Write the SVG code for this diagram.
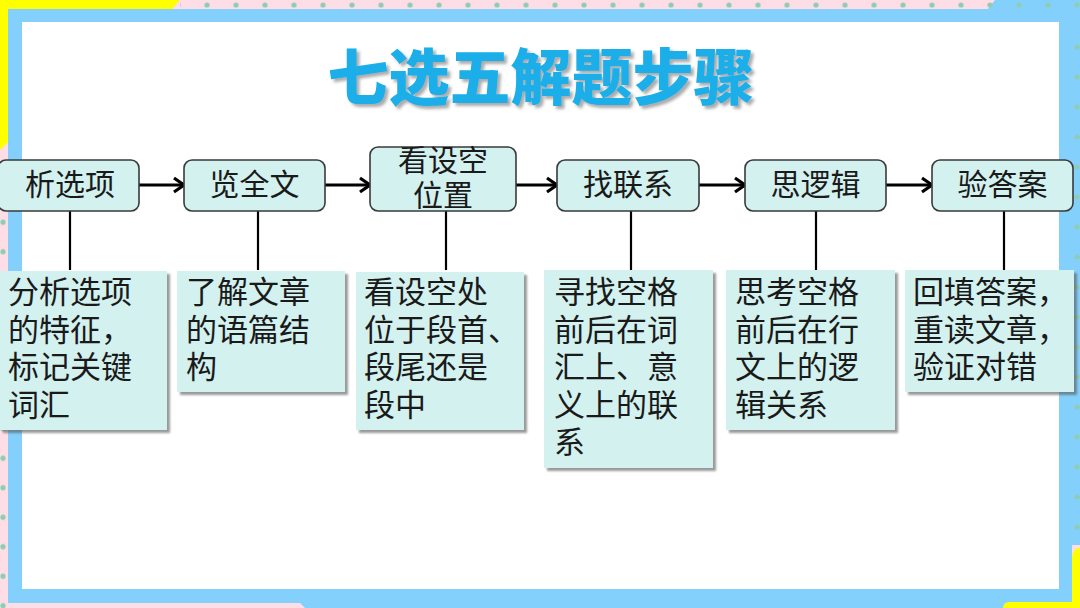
<svg xmlns="http://www.w3.org/2000/svg" width="1080" height="608" viewBox="0 0 1080 608">
<defs>
<style>
.step{fill:#d3f1ef;stroke:#3a3a3a;stroke-width:1.6}
.desc{fill:#d3f1ef;filter:url(#sh)}
.st{font-family:"Liberation Sans","Noto Sans CJK SC",sans-serif;font-size:30px;fill:#1a1a1a;text-anchor:middle}
.dt{font-family:"Liberation Sans","Noto Sans CJK SC",sans-serif;font-size:31px;fill:#1a1a1a}
.arrow{stroke:#000;stroke-width:3;fill:none;marker-end:url(#chev)}
.stem{stroke:#000;stroke-width:2.2;fill:none}
</style>
<filter id="sh" x="-5%" y="-5%" width="115%" height="115%">
<feDropShadow dx="3" dy="3" stdDeviation="1" flood-color="#555" flood-opacity="0.6"/>
</filter>
<filter id="tsh" x="-5%" y="-20%" width="115%" height="150%">
<feDropShadow dx="3" dy="3" stdDeviation="1.5" flood-color="#444" flood-opacity="0.45"/>
</filter>
<marker id="chev" markerUnits="userSpaceOnUse" markerWidth="16" markerHeight="18" viewBox="0 0 16 18" refX="13" refY="9" orient="auto">
<path d="M3,2 L13,9 L3,16" stroke="#000" stroke-width="3.2" fill="none" stroke-linejoin="miter"/>
</marker>
<pattern id="dotsTop" patternUnits="userSpaceOnUse" x="192.5" y="0" width="29" height="12">
<circle cx="14.5" cy="5" r="2.6" fill="#8ecdb0"/>
</pattern>
<pattern id="dotsLeft" patternUnits="userSpaceOnUse" x="0" y="207.5" width="8" height="29.5">
<circle cx="3" cy="14.75" r="2.6" fill="#8ecdb0"/>
</pattern>
<pattern id="dotsRight" patternUnits="userSpaceOnUse" x="1068" y="422" width="12" height="30">
<circle cx="9" cy="15" r="2.6" fill="#8ecdb0"/>
</pattern>
</defs>

<g id="background">
<rect x="0" y="0" width="1080" height="608" fill="#fddde6"/>
<path d="M0,0 H180 L172,9 H8 V142 L0,150 Z" fill="#ffff00"/>
<path d="M995,0 H1080 V545 H1059 V9 H988 Z" fill="#84d0fc"/>
<path d="M300,603 H1005 V608 H305 Z" fill="#84d0fc"/>
<rect x="8" y="9" width="1064" height="594" fill="#84d0fc"/>
<path d="M1080,548 Q1072,548 1072,560 V602 H1010 Q1003,602 1003,608 H1080 Z" fill="#ffff00"/>
<rect x="22" y="22" width="1037" height="567" fill="#ffffff"/>
<rect x="180" y="0" width="900" height="11" fill="url(#dotsTop)"/>
<rect x="0" y="150" width="8" height="458" fill="url(#dotsLeft)"/>
<rect x="1068" y="20" width="12" height="525" fill="url(#dotsRight)"/>
</g>

<g id="title">
<text x="541" y="100" text-anchor="middle" font-family="'Noto Sans CJK SC','Liberation Sans',sans-serif" font-size="61" font-weight="900" fill="#1aaee8" filter="url(#tsh)">七选五解题步骤</text>
</g>

<g id="connectors">
<line class="arrow" x1="139" y1="185" x2="184" y2="185"/>
<line class="arrow" x1="325" y1="185" x2="370" y2="185"/>
<line class="arrow" x1="516" y1="185" x2="557" y2="185"/>
<line class="arrow" x1="699" y1="185" x2="745" y2="185"/>
<line class="arrow" x1="886" y1="185" x2="932" y2="185"/>
<line class="stem" x1="70" y1="211" x2="70" y2="270"/>
<line class="stem" x1="258" y1="211" x2="258" y2="270"/>
<line class="stem" x1="446" y1="211" x2="446" y2="270"/>
<line class="stem" x1="631" y1="211" x2="631" y2="270"/>
<line class="stem" x1="816" y1="211" x2="816" y2="270"/>
<line class="stem" x1="1004" y1="211" x2="1004" y2="270"/>
</g>

<g id="step1">
<rect class="step" x="-2" y="160" width="141" height="51" rx="8"/>
<text class="st" x="70" y="195">析选项</text>
</g>
<g id="step2">
<rect class="step" x="184" y="160" width="141" height="51" rx="8"/>
<text class="st" x="254.5" y="195">览全文</text>
</g>
<g id="step3">
<rect class="step" x="370" y="147" width="146" height="64" rx="8"/>
<text class="st" x="443" y="171">看设空</text>
<text class="st" x="443" y="206">位置</text>
</g>
<g id="step4">
<rect class="step" x="557" y="160" width="142" height="51" rx="8"/>
<text class="st" x="628" y="195">找联系</text>
</g>
<g id="step5">
<rect class="step" x="745" y="160" width="141" height="51" rx="8"/>
<text class="st" x="815.5" y="195">思逻辑</text>
</g>
<g id="step6">
<rect class="step" x="932" y="160" width="141" height="51" rx="8"/>
<text class="st" x="1002.5" y="195">验答案</text>
</g>

<g id="desc1">
<rect class="desc" x="0" y="271" width="167" height="159"/>
<text class="dt" x="8" y="303">分析选项</text>
<text class="dt" x="8" y="340.5">的特征，</text>
<text class="dt" x="8" y="378">标记关键</text>
<text class="dt" x="8" y="415.5">词汇</text>
</g>
<g id="desc2">
<rect class="desc" x="177" y="271" width="168" height="121"/>
<text class="dt" x="186" y="303">了解文章</text>
<text class="dt" x="186" y="340.5">的语篇结</text>
<text class="dt" x="186" y="378">构</text>
</g>
<g id="desc3">
<rect class="desc" x="356" y="272" width="168" height="158"/>
<text class="dt" x="364" y="303">看设空处</text>
<text class="dt" x="364" y="340.5">位于段首、</text>
<text class="dt" x="364" y="378">段尾还是</text>
<text class="dt" x="364" y="415.5">段中</text>
</g>
<g id="desc4">
<rect class="desc" x="544" y="270" width="169" height="198"/>
<text class="dt" x="554" y="303">寻找空格</text>
<text class="dt" x="554" y="340.5">前后在词</text>
<text class="dt" x="554" y="378">汇上、意</text>
<text class="dt" x="554" y="415.5">义上的联</text>
<text class="dt" x="554" y="453">系</text>
</g>
<g id="desc5">
<rect class="desc" x="726" y="270" width="169" height="160"/>
<text class="dt" x="735" y="303">思考空格</text>
<text class="dt" x="735" y="340.5">前后在行</text>
<text class="dt" x="735" y="378">文上的逻</text>
<text class="dt" x="735" y="415.5">辑关系</text>
</g>
<g id="desc6">
<rect class="desc" x="905" y="270" width="169" height="122"/>
<text class="dt" x="913" y="303">回填答案，</text>
<text class="dt" x="913" y="340.5">重读文章，</text>
<text class="dt" x="913" y="378">验证对错</text>
</g>
</svg>
